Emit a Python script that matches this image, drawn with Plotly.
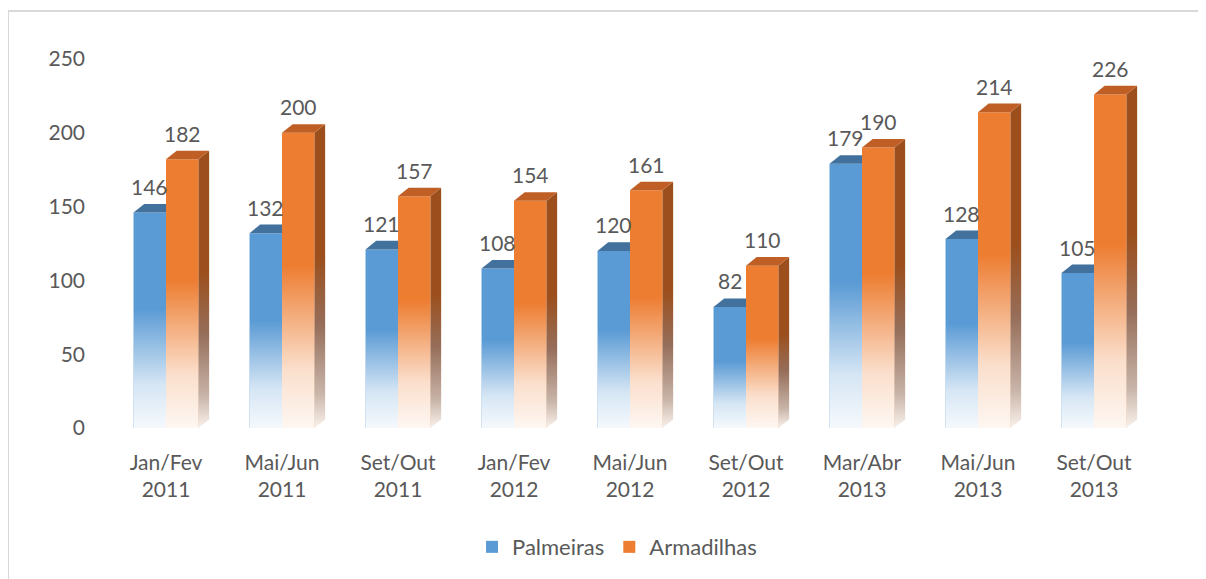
import plotly.graph_objects as go

# ---- data ----
categories = ["Jan/Fev<br>2011", "Mai/Jun<br>2011", "Set/Out<br>2011",
              "Jan/Fev<br>2012", "Mai/Jun<br>2012", "Set/Out<br>2012",
              "Mar/Abr<br>2013", "Mai/Jun<br>2013", "Set/Out<br>2013"]
palmeiras = [146, 132, 121, 108, 120, 82, 179, 128, 105]
armadilhas = [182, 200, 157, 154, 161, 110, 190, 214, 226]
y_ticks = [0, 50, 100, 150, 200, 250]

# ---- styling ----
FONT = "Lato"
TXT = "#595959"
BLUE = "#5B9BD5"
BLUE_TOP = "#41719C"
ORANGE = "#ED7D31"
ORANGE_TOP = "#BF5F25"
ORANGE_SIDE = "#9C4F1C"
W = 0.28        # bar width (axis units)
DX = 0.092      # 3D depth, x (axis units)
DY = 5.8        # 3D depth, y (axis units)

xs = list(range(len(categories)))
fig = go.Figure()

fig.add_trace(go.Bar(x=xs, y=palmeiras, name="Palmeiras",
                     marker=dict(color=BLUE, line=dict(width=0))))
fig.add_trace(go.Bar(x=xs, y=armadilhas, name="Armadilhas",
                     marker=dict(color=ORANGE, line=dict(width=0))))

fade = [[0, "rgba(255,255,255,0.94)"], [0.2, "rgba(255,255,255,0.75)"],
        [0.55, "rgba(255,255,255,0)"], [1, "rgba(255,255,255,0)"]]
side_scale = [[0, "rgba(250,242,236,1)"], [0.12, "rgba(200,180,168,1)"],
              [0.35, "rgba(150,110,90,1)"], [0.58, ORANGE_SIDE], [1, ORANGE_SIDE]]

for i, (vb, vo) in enumerate(zip(palmeiras, armadilhas)):
    c = xs[i]
    # white fade on blue front face
    fig.add_trace(go.Scatter(x=[c - W, c, c, c - W, c - W], y=[0, 0, vb, vb, 0],
                             mode="lines", line=dict(width=0), fill="toself",
                             fillgradient=dict(type="vertical", colorscale=fade, start=0, stop=vb),
                             hoverinfo="skip", showlegend=False))
    # blue top face (visible part)
    fig.add_trace(go.Scatter(x=[c - W, c, c, c - W + DX, c - W], y=[vb, vb, vb + DY, vb + DY, vb],
                             mode="lines", line=dict(width=0), fill="toself", fillcolor=BLUE_TOP,
                             hoverinfo="skip", showlegend=False))
    # white fade on orange front face
    fig.add_trace(go.Scatter(x=[c, c + W, c + W, c, c], y=[0, 0, vo, vo, 0],
                             mode="lines", line=dict(width=0), fill="toself",
                             fillgradient=dict(type="vertical", colorscale=fade, start=0, stop=vo),
                             hoverinfo="skip", showlegend=False))
    # orange side face
    fig.add_trace(go.Scatter(x=[c + W, c + W + DX, c + W + DX, c + W, c + W],
                             y=[0, DY, vo + DY, vo, 0],
                             mode="lines", line=dict(width=0), fill="toself",
                             fillgradient=dict(type="vertical", colorscale=side_scale, start=0, stop=vo),
                             hoverinfo="skip", showlegend=False))
    # orange top face
    fig.add_trace(go.Scatter(x=[c, c + W, c + W + DX, c + DX, c],
                             y=[vo, vo, vo + DY, vo + DY, vo],
                             mode="lines", line=dict(width=0), fill="toself", fillcolor=ORANGE_TOP,
                             hoverinfo="skip", showlegend=False))

annotations = []
for i, (vb, vo) in enumerate(zip(palmeiras, armadilhas)):
    annotations.append(dict(x=xs[i] - W / 2, y=vb, text=str(vb), showarrow=False,
                            yanchor="middle", yshift=26, font=dict(size=21, color=TXT, family=FONT)))
    annotations.append(dict(x=xs[i] + W / 2, y=vo, text=str(vo), showarrow=False,
                            yanchor="middle", yshift=26, font=dict(size=21, color=TXT, family=FONT)))

fig.update_layout(
    width=1206, height=579,
    margin=dict(l=100, r=62, t=51, b=159, autoexpand=False),
    paper_bgcolor="white", plot_bgcolor="white",
    font=dict(family=FONT, size=21, color=TXT),
    barmode="group", bargap=0.44, bargroupgap=0,
    showlegend=True,
    legend=dict(orientation="h", xref="container", yref="container",
                x=0.505, xanchor="center", y=0.069, yanchor="middle",
                font=dict(size=22, color=TXT, family=FONT), itemwidth=30,
                traceorder="normal"),
    annotations=annotations,
    shapes=[dict(type="rect", xref="paper", yref="paper",
                 x0=-0.0958, x1=1.2, y0=-0.5, y1=1.130,
                 line=dict(color="#D9D9D9", width=2), fillcolor="rgba(0,0,0,0)", layer="below")],
)
fig.update_xaxes(range=[-0.5, 8.5], tickvals=xs, ticktext=categories,
                 showgrid=False, zeroline=False, showline=False, ticks="",
                 ticklabelstandoff=20, automargin=False,
                 tickfont=dict(size=21, color=TXT, family=FONT))
fig.update_yaxes(range=[0, 250], tickvals=y_ticks, showgrid=False, zeroline=False,
                 showline=False, ticks="", ticklabelstandoff=22, automargin=False,
                 tickfont=dict(size=21, color=TXT, family=FONT))

fig.write_html("out.html")
